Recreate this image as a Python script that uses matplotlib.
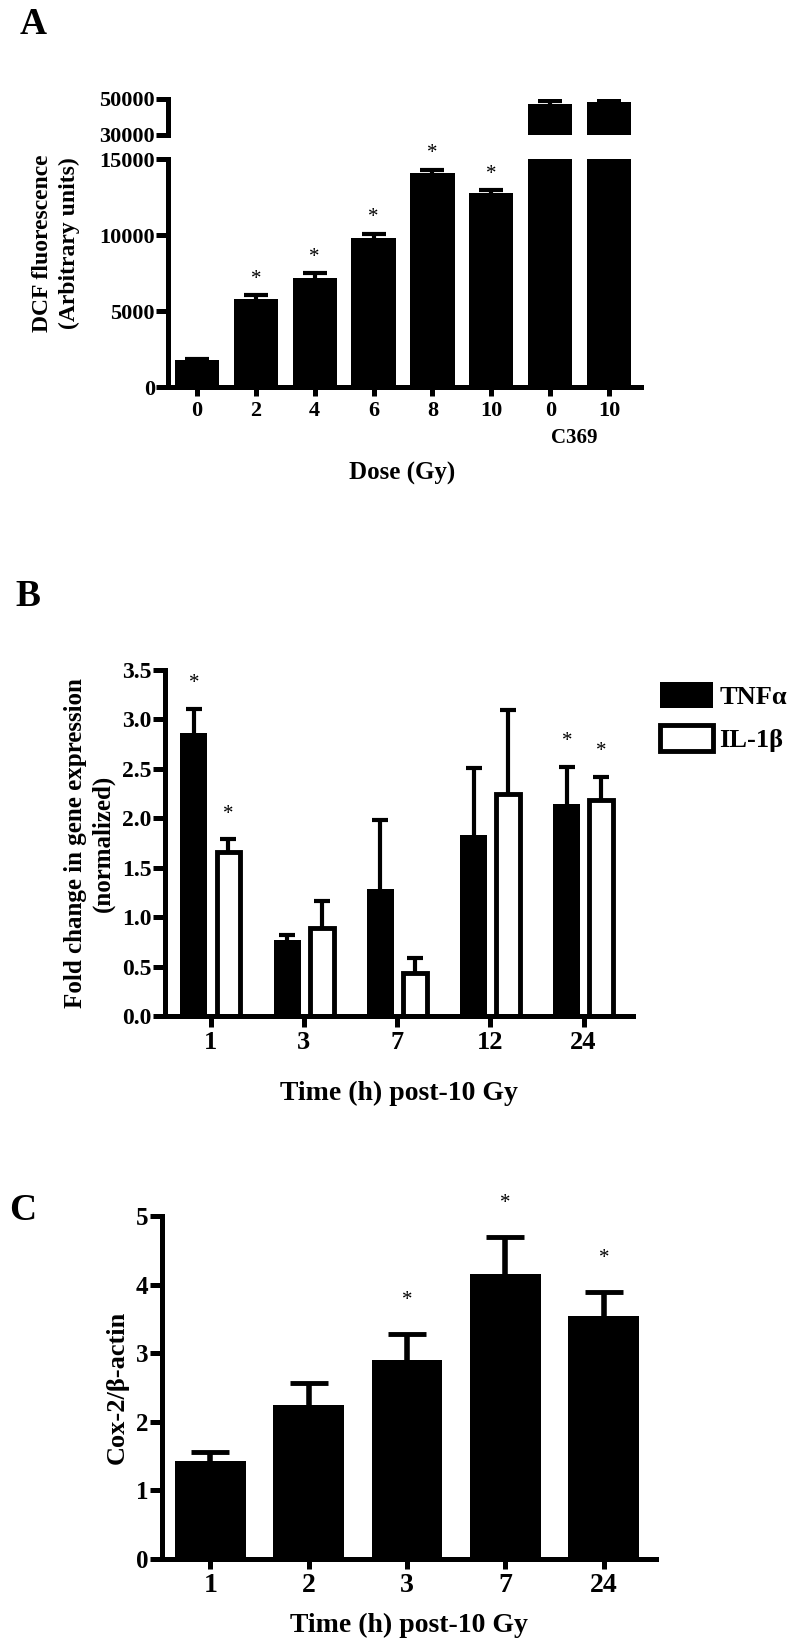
import matplotlib
matplotlib.use("Agg")
import matplotlib.pyplot as plt
import numpy as np
from matplotlib.patches import Patch
from matplotlib.ticker import FixedLocator
from matplotlib import transforms

plt.rcParams["font.family"] = ["Liberation Serif", "DejaVu Serif"]
plt.rcParams["font.weight"] = "bold"

# ─── data ──────────────────────────────────────────────────────────────────────

# Panel A: DCF fluorescence vs dose (last two bars: C369)
dose_labels = ["0", "2", "4", "6", "8", "10", "0", "10"]
dcf_mean = [1800, 5800, 7200, 9800, 14050, 12750, 47200, 48300]
dcf_sem = [60, 250, 290, 300, 230, 210, 1700, 1100]
dcf_sig = [False, True, True, True, True, True, False, False]

# Panel B: fold change in gene expression
time_b = ["1", "3", "7", "12", "24"]
tnf_mean = [2.86, 0.77, 1.28, 1.83, 2.14]
tnf_err = [0.25, 0.05, 0.70, 0.68, 0.38]
tnf_sig = [True, False, False, False, True]
il_mean = [1.66, 0.89, 0.44, 2.25, 2.19]
il_err = [0.13, 0.27, 0.15, 0.85, 0.23]
il_sig = [True, False, False, False, True]

# Panel C: Cox-2 / beta-actin
time_c = ["1", "2", "3", "7", "24"]
cox_mean = [1.43, 2.24, 2.90, 4.15, 3.54]
cox_err = [0.13, 0.33, 0.38, 0.54, 0.35]
cox_sig = [False, False, True, True, True]

# ─── layout helpers ────────────────────────────────────────────────────────────

W, H = 800, 1644
LW = 3.6


def box(x0, y0, x1, y1):
    return [x0 / W, 1 - y1 / H, (x1 - x0) / W, (y1 - y0) / H]


def style(ax, ylen=8.5, xlen=6.5, ysize=16, xsize=16):
    for s in ("top", "right"):
        ax.spines[s].set_visible(False)
    for s in ("left", "bottom"):
        ax.spines[s].set_linewidth(LW)
    ax.tick_params(axis="y", width=LW, length=ylen, pad=1, labelsize=ysize)
    ax.tick_params(axis="x", width=LW, length=xlen, pad=3, labelsize=xsize)


def up_err(ax, xs, means, errs, lw, cap, capw):
    # upper-only error bars, no cap at the bar top (Prism style)
    _, caps, _ = ax.errorbar(xs, means, yerr=[np.zeros(len(xs)), errs], fmt="none",
                             ecolor="black", elinewidth=lw, capsize=cap, capthick=capw)
    caps[0].set_visible(False)


def stars(ax, xs, tops, sig, offset):
    for x, t, s in zip(xs, tops, sig):
        if s:
            ax.annotate("*", (x, t), xytext=(0, offset), textcoords="offset points",
                        ha="center", va="center", fontsize=15, fontweight="normal")


fig = plt.figure(figsize=(W / 100, H / 100), dpi=100)

# ─── panel A (broken y axis) ───────────────────────────────────────────────────

axA_top = fig.add_axes(box(168, 99, 641, 135))
axA = fig.add_axes(box(168, 159, 641, 387.5))
xa = np.arange(len(dcf_mean))
for ax in (axA_top, axA):
    style(ax)
    ax.bar(xa, dcf_mean, width=0.75, color="black")
    up_err(ax, xa, dcf_mean, dcf_sem, 3, 8.5, 3)
    ax.set_xlim(-0.49, 7.54)
    ax.tick_params(axis="y", which="minor", direction="in", length=6, width=LW)

axA_top.set_ylim(30000, 50000)
axA_top.set_yticks([30000, 50000])
axA_top.yaxis.set_minor_locator(FixedLocator([30000]))
axA_top.spines["bottom"].set_visible(False)
axA_top.set_xticks([])

axA.set_ylim(0, 15000)
axA.set_yticks([0, 5000, 10000, 15000])
axA.yaxis.set_minor_locator(FixedLocator([15000]))
axA.set_xticks(xa)
axA.set_xticklabels(dose_labels)
stars(axA, xa, np.add(dcf_mean, dcf_sem), dcf_sig, 11.5)
axA.text(6.4, -0.221, "C369", transform=transforms.blended_transform_factory(axA.transData, axA.transAxes),
         ha="center", va="center", fontsize=15)

fig.text(56 / W, 1 - 243 / H, "DCF fluorescence\n(Arbitrary units)", rotation=90,
         ha="center", va="center", multialignment="center", fontsize=17, linespacing=1.3)
fig.text(402 / W, 1 - 473 / H, "Dose (Gy)", ha="center", va="center", fontsize=18)

# ─── panel B ───────────────────────────────────────────────────────────────────

axB = fig.add_axes(box(165, 670, 633, 1016))
style(axB, ylen=8.5, xlen=8, ysize=17, xsize=19)
xb = np.arange(len(time_b))
axB.bar(xb - 0.18, tnf_mean, width=0.29, color="black")
axB.bar(xb + 0.19, il_mean, width=0.255, color="white", edgecolor="black", linewidth=3.5)
up_err(axB, xb - 0.18, tnf_mean, tnf_err, 3, 5.5, 3)
up_err(axB, xb + 0.19, il_mean, il_err, 3, 5.5, 3)
stars(axB, xb - 0.18, np.add(tnf_mean, tnf_err), tnf_sig, 18)
stars(axB, xb + 0.19, np.add(il_mean, il_err), il_sig, 18)
axB.set_xlim(-0.49, 4.53)
axB.set_ylim(0, 3.5)
axB.set_yticks(np.arange(0, 3.51, 0.5))
axB.set_yticklabels([f"{v:.1f}" for v in np.arange(0, 3.51, 0.5)])
axB.set_xticks(xb)
axB.set_xticklabels(time_b)

fig.text(89 / W, 1 - 843 / H, "Fold change in gene expression\n(normalized)", rotation=90,
         ha="center", va="center", multialignment="center", fontsize=18, linespacing=1.25)
fig.text(399 / W, 1 - 1093 / H, "Time (h) post-10 Gy", ha="center", va="center", fontsize=20)

handles = [Patch(facecolor="black", edgecolor="black", linewidth=0),
           Patch(facecolor="white", edgecolor="black", linewidth=3.5)]
fig.legend(handles, ["TNFα", "IL-1β"], loc="upper left", bbox_to_anchor=(660 / W, 1 - 682 / H),
           frameon=False, borderpad=0, borderaxespad=0, handlelength=2.0, handleheight=1.15,
           handletextpad=0.25, labelspacing=0.6, prop={"size": 19, "weight": "bold"})

# ─── panel C ───────────────────────────────────────────────────────────────────

axC = fig.add_axes(box(162, 1216, 656, 1559))
style(axC, ylen=9, xlen=7, ysize=18, xsize=20)
xc = np.arange(len(time_c))
axC.bar(xc, cox_mean, width=0.72, color="black")
up_err(axC, xc, cox_mean, cox_err, 4, 13.5, 3.5)
stars(axC, xc, np.add(cox_mean, cox_err), cox_sig, 24)
axC.set_xlim(-0.49, 4.53)
axC.set_ylim(0, 5)
axC.set_yticks(range(6))
axC.set_xticks(xc)
axC.set_xticklabels(time_c)

fig.text(117 / W, 1 - 1387 / H, "Cox-2/β-actin", rotation=90, ha="center", va="center", fontsize=19)
fig.text(409 / W, 1 - 1625 / H, "Time (h) post-10 Gy", ha="center", va="center", fontsize=20)

# ─── panel letters ─────────────────────────────────────────────────────────────

for lab, (px, py) in zip("ABC", [(33, 25), (28, 596), (23, 1210)]):
    fig.text(px / W, 1 - py / H, lab, ha="center", va="center", fontsize=27)

fig.savefig("out.png", dpi=100)
